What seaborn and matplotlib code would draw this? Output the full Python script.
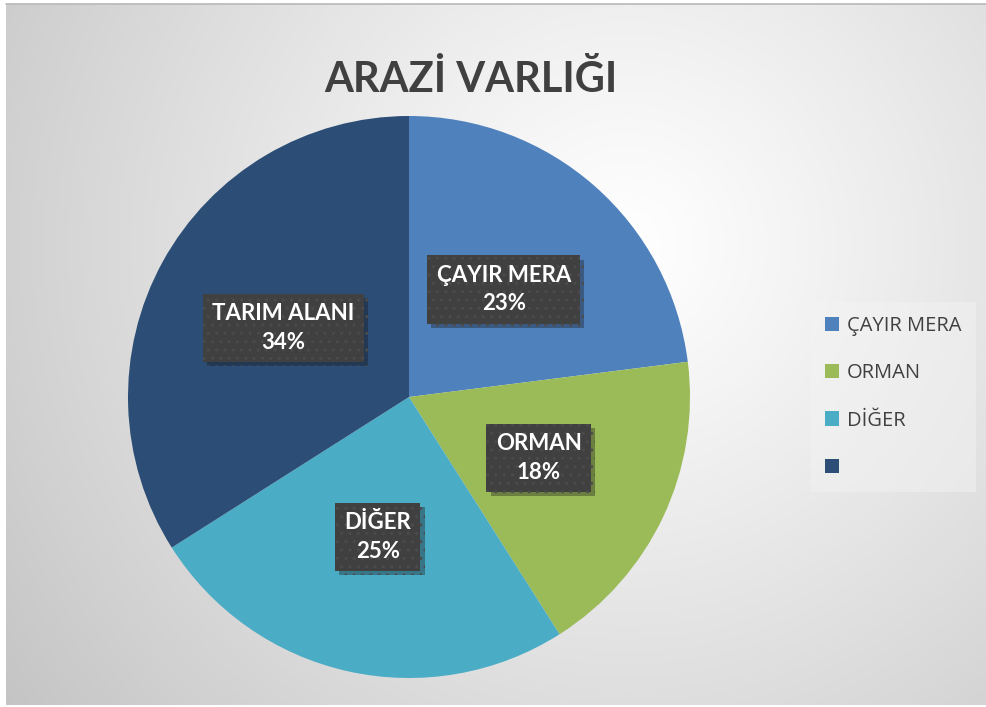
import numpy as np
import matplotlib
matplotlib.use("Agg")
import matplotlib.pyplot as plt
import seaborn as sns
from matplotlib.patches import Patch
from matplotlib import patheffects as pe

categories = ["ÇAYIR MERA", "ORMAN", "DİĞER", "TARIM ALANI"]
values = [23, 18, 25, 34]
legend_labels = ["ÇAYIR MERA", "ORMAN", "DİĞER", ""]
title = "ARAZİ VARLIĞI"
colors = ["#4F81BD", "#9BBB59", "#4BACC6", "#2C4D75"]

sns.set_theme(style="white")
plt.rcParams["font.family"] = ["Lato", "DejaVu Sans"]

W, H = 987, 707
fig = plt.figure(figsize=(W / 100, H / 100), dpi=100)
fig.patch.set_facecolor("white")

# background radial gradient
bg = fig.add_axes([6 / W, 2 / H, 981 / W, 701 / H])
yy, xx = np.mgrid[0:701, 0:981]
cx, cy = 620, 240
d = np.sqrt((xx - cx) ** 2 + (yy - cy) ** 2)
d = d / d.max()
g = 1.0 - 0.23 * np.clip(d, 0, 1) ** 1.1
img = np.dstack([g, g, g])
bg.imshow(img, aspect="auto", extent=[0, 1, 0, 1], origin="upper", interpolation="bilinear")
bg.set_xticks([]); bg.set_yticks([])
for s in bg.spines.values():
    s.set_visible(False)
bg.plot([0, 1], [1, 1], color="#b8b8b8", lw=1.2, transform=bg.transAxes, clip_on=False)
bg.set_zorder(-5)

# pie axes
r = 281
cxp, cyp = 409, 397
ax = fig.add_axes([(cxp - r) / W, 1 - (cyp + r) / H, 2 * r / W, 2 * r / H])
labels = [f"{c}\n{v}%" for c, v in zip(categories, values)]
wedges, texts = ax.pie(values, labels=labels, colors=sns.color_palette(colors),
                       startangle=90, counterclock=False, labeldistance=0.51,
                       wedgeprops=dict(linewidth=0),
                       textprops=dict(ha="center", va="center", color="white",
                                      fontsize=16, fontweight="bold", linespacing=1.45))
ax.set_xlim(-1, 1); ax.set_ylim(-1, 1)
ax.set_aspect("equal")
for t in texts:
    t.set_bbox(dict(boxstyle="square,pad=0.42", facecolor="#404040", edgecolor="#4b4b4b",
                    hatch="..", linewidth=0))
    t.get_bbox_patch().set_path_effects([pe.SimplePatchShadow(offset=(3, -3), alpha=0.35),
                                         pe.Normal()])

# title
fig.text(471 / W, 1 - 92 / H, title, ha="center", va="baseline", fontsize=30,
         fontweight="bold", color="#404040")

# legend
handles = [Patch(facecolor=c, edgecolor="none") for c in colors]
leg = fig.legend(handles, legend_labels, loc="center left",
                 bbox_to_anchor=(817 / W, 1 - 397 / H), frameon=True,
                 prop=dict(family=["Open Sans", "DejaVu Sans"], size=14.5),
                 handlelength=0.7, handleheight=0.7, handletextpad=0.4,
                 labelspacing=1.35, borderpad=0.4, borderaxespad=0)
fr = leg.get_frame()
fr.set_facecolor("#f4f4f4"); fr.set_alpha(0.45); fr.set_edgecolor("none"); fr.set_boxstyle("square")
for t in leg.get_texts():
    t.set_color("#404040")

fig.savefig("out.png", dpi=100)
